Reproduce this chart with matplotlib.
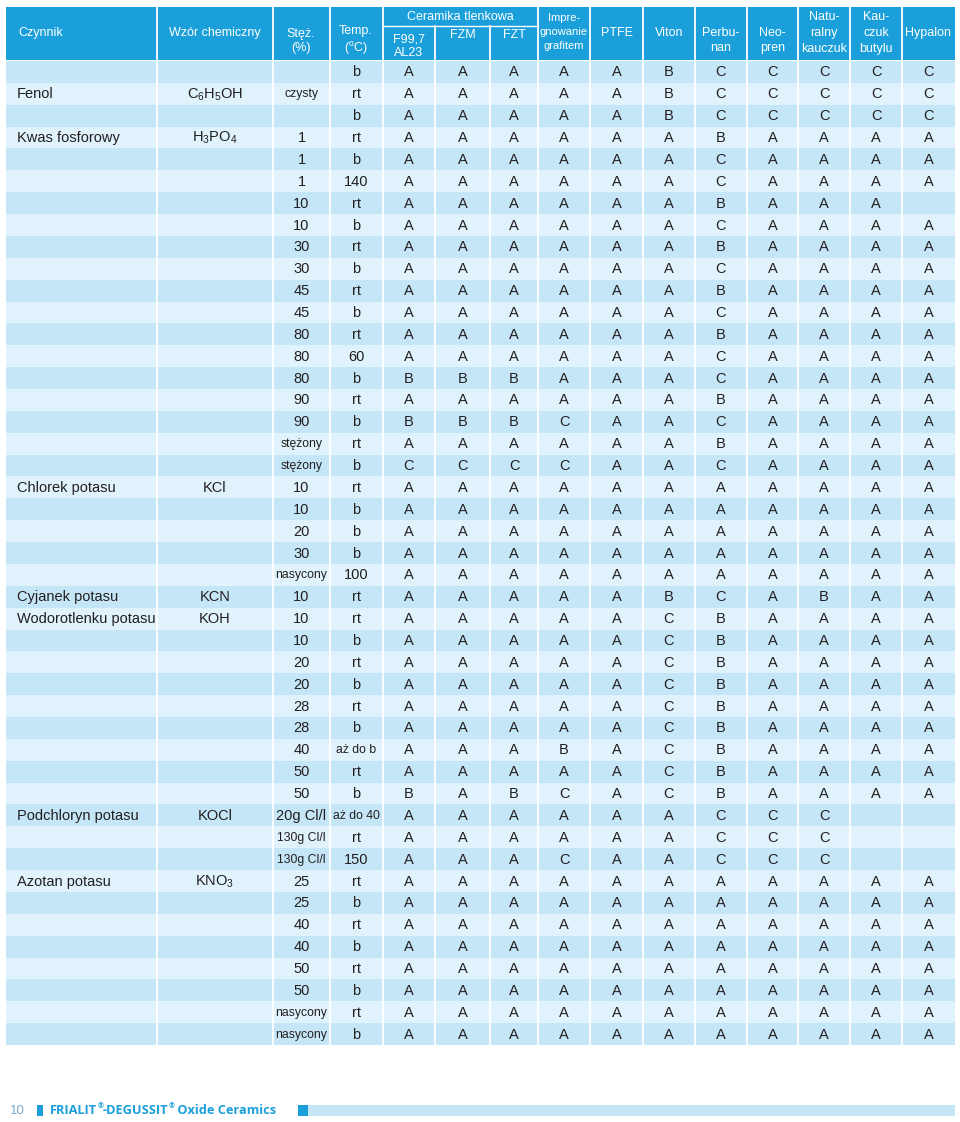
"""Chemical resistance table: Fenol ... Azotan potasu, FRIALIT-DEGUSSIT page 10."""

import matplotlib

matplotlib.use("Agg")
import matplotlib.pyplot as plt
from matplotlib.patches import Rectangle

plt.rcParams["font.family"] = ["Liberation Sans", "DejaVu Sans"]

# --- data -------------------------------------------------------------------
materials = ["F99,7\nAL23", "FZM", "FZT", "Impre-\ngnowanie\ngrafitem", "PTFE", "Viton",
             "Perbu-\nnan", "Neo-\npren", "Natu-\nralny\nkauczuk", "Kau-\nczuk\nbutylu", "Hypalon"]

agent_rows = [1, 3, 19, 24, 25, 34, 37]
agent_names = ["Fenol", "Kwas fosforowy", "Chlorek potasu", "Cyjanek potasu",
               "Wodorotlenku potasu", "Podchloryn potasu", "Azotan potasu"]
agent_formulas = [r"$\mathregular{C_6H_5OH}$", r"$\mathregular{H_3PO_4}$", "KCl", "KCN", "KOH",
                  "KOCl", r"$\mathregular{KNO_3}$"]

conc = ["", "czysty", "", "1", "1", "1", "10", "10", "30", "30", "45", "45", "80", "80", "80",
        "90", "90", "stężony", "stężony", "10", "10", "20", "30", "nasycony", "10", "10", "10",
        "20", "20", "28", "28", "40", "50", "50", "20g Cl/l", "130g Cl/l", "130g Cl/l", "25",
        "25", "40", "40", "50", "50", "nasycony", "nasycony"]

temps = ["b", "rt", "b", "rt", "b", "140", "rt", "b", "rt", "b", "rt", "b", "rt", "60", "b",
         "rt", "b", "rt", "b", "rt", "b", "b", "b", "100", "rt", "rt", "b", "rt", "b", "rt", "b",
         "aż do b", "rt", "b", "aż do 40", "rt", "150", "rt", "b", "rt", "b", "rt", "b", "rt", "b"]

# one letter per material column, "-" = no entry
ratings = [
    "AAAAABCCCCC", "AAAAABCCCCC", "AAAAABCCCCC",
    "AAAAAABAAAA", "AAAAAACAAAA", "AAAAAACAAAA", "AAAAAABAAA-", "AAAAAACAAAA",
    "AAAAAABAAAA", "AAAAAACAAAA", "AAAAAABAAAA", "AAAAAACAAAA", "AAAAAABAAAA",
    "AAAAAACAAAA", "BBBAAACAAAA", "AAAAAABAAAA", "BBBCAACAAAA", "AAAAAABAAAA",
    "CCCCAACAAAA",
    "AAAAAAAAAAA", "AAAAAAAAAAA", "AAAAAAAAAAA", "AAAAAAAAAAA", "AAAAAAAAAAA",
    "AAAAABCABAA",
    "AAAAACBAAAA", "AAAAACBAAAA", "AAAAACBAAAA", "AAAAACBAAAA", "AAAAACBAAAA",
    "AAAAACBAAAA", "AAABACBAAAA", "AAAAACBAAAA", "BABCACBAAAA",
    "AAAAAACCC--", "AAAAAACCC--", "AAACAACCC--",
    "AAAAAAAAAAA", "AAAAAAAAAAA", "AAAAAAAAAAA", "AAAAAAAAAAA", "AAAAAAAAAAA",
    "AAAAAAAAAAA", "AAAAAAAAAAA", "AAAAAAAAAAA",
]

# --- layout (pixel coordinates) ----------------------------------------------
col_edges = [6, 157, 273, 330, 383, 435, 490, 538, 590, 643, 695, 747, 798, 850, 902, 955]
head_top, head_bot, group_line = 7, 60, 26
body_top, body_bot = 61, 1045
row_h = (body_bot - body_top) / len(ratings)

# header label centre y and line spacing per material column
mat_y = [46.5, 35, 35, 32, 33, 33, 40.5, 40.5, 33, 33, 33]
mat_ls = [1.15, 1, 1, 1.45, 1, 1, 1.32, 1.32, 1.4, 1.4, 1]

HEAD = "#1a9fdb"
DARK = "#c5e6f7"
LIGHT = "#e0f2fb"
INK = "#231f20"

fig = plt.figure(figsize=(9.6, 11.22), dpi=100)
ax = fig.add_axes([0, 0, 1, 1])
ax.set_xlim(0, 960)
ax.set_ylim(1122, 0)
ax.axis("off")

# header
ax.add_patch(Rectangle((col_edges[0], head_top), col_edges[-1] - col_edges[0],
                       head_bot - head_top, color=HEAD, lw=0))
hkw = dict(color="white", fontsize=9, ha="center", va="center")
ax.text(18, 33, "Czynnik", **{**hkw, "ha": "left"})
ax.text(215, 33, "Wzór chemiczny", **hkw)
ax.text(301, 41, "Stęż.\n(%)", linespacing=1.25, **hkw)
ax.text(356, 41, "Temp.\n" + r"($\mathregular{^o}$C)", linespacing=1.2, **hkw)
ax.text(460, 17, "Ceramika tlenkowa", **hkw)
ax.plot([col_edges[4], col_edges[7]], [group_line, group_line], color="white", lw=1)
for i, name in enumerate(materials):
    cx = (col_edges[4 + i] + col_edges[5 + i]) / 2
    size = 8 if name.startswith("Impre") else 9
    ax.text(cx, mat_y[i], name, linespacing=mat_ls[i], **{**hkw, "fontsize": size})

# body rows
for r in range(len(ratings)):
    y0 = body_top + r * row_h
    ax.add_patch(Rectangle((col_edges[0], y0), col_edges[-1] - col_edges[0], row_h,
                           color=DARK if r % 2 == 0 else LIGHT, lw=0))
    cy = y0 + row_h / 2 + 0.5
    c = conc[r]
    small = (c and not c[0].isdigit()) or len(c) > 8
    ax.text((col_edges[2] + col_edges[3]) / 2, cy, c, color=INK, ha="center", va="center",
            fontsize=8.8 if small else 10.5)
    t = temps[r]
    ax.text((col_edges[3] + col_edges[4]) / 2, cy, t, color=INK, ha="center", va="center",
            fontsize=8.8 if " " in t else 10.5)
    for j, letter in enumerate(ratings[r]):
        if letter == "-":
            continue
        ax.text((col_edges[4 + j] + col_edges[5 + j]) / 2, cy, letter, color=INK,
                ha="center", va="center", fontsize=10.5)

for row, name, formula in zip(agent_rows, agent_names, agent_formulas):
    cy = body_top + row * row_h + row_h / 2 + 0.5
    ax.text(17, cy, name, color=INK, ha="left", va="center", fontsize=10.5)
    ax.text((col_edges[1] + col_edges[2]) / 2, cy, formula, color=INK, ha="center",
            va="center", fontsize=10.5)

# white column separators (inside the ceramics group they start below its title)
for x in col_edges[1:-1]:
    top = group_line if col_edges[4] < x < col_edges[7] else head_top
    ax.plot([x, x], [top, body_bot], color="white", lw=1.3)

# footer
ax.text(10, 1111, "10", color="#7aa9cc", fontsize=9.5, ha="left", va="center")
ax.add_patch(Rectangle((37, 1105), 6, 11, color=HEAD, lw=0))
fig.canvas.draw()
renderer = fig.canvas.get_renderer()
x_px = 50
pieces = [("FRIALIT", 9.2, 0), ("®", 5, 4), ("-DEGUSSIT", 9.2, 0), ("®", 5, 4),
          (" Oxide Ceramics", 9.2, 0)]
for txt, size, rise in pieces:
    x_data = ax.transData.inverted().transform((x_px, 0))[0]
    t = ax.text(x_data, 1111 - rise, txt, color=HEAD, fontsize=size, fontweight="bold",
                family=["Open Sans", "DejaVu Sans"], ha="left", va="center")
    x_px = t.get_window_extent(renderer).x1
ax.add_patch(Rectangle((298, 1105), 10, 11, color=HEAD, lw=0))
ax.add_patch(Rectangle((308, 1105), 647, 11, color=DARK, lw=0))

fig.savefig("out.png", dpi=100)
